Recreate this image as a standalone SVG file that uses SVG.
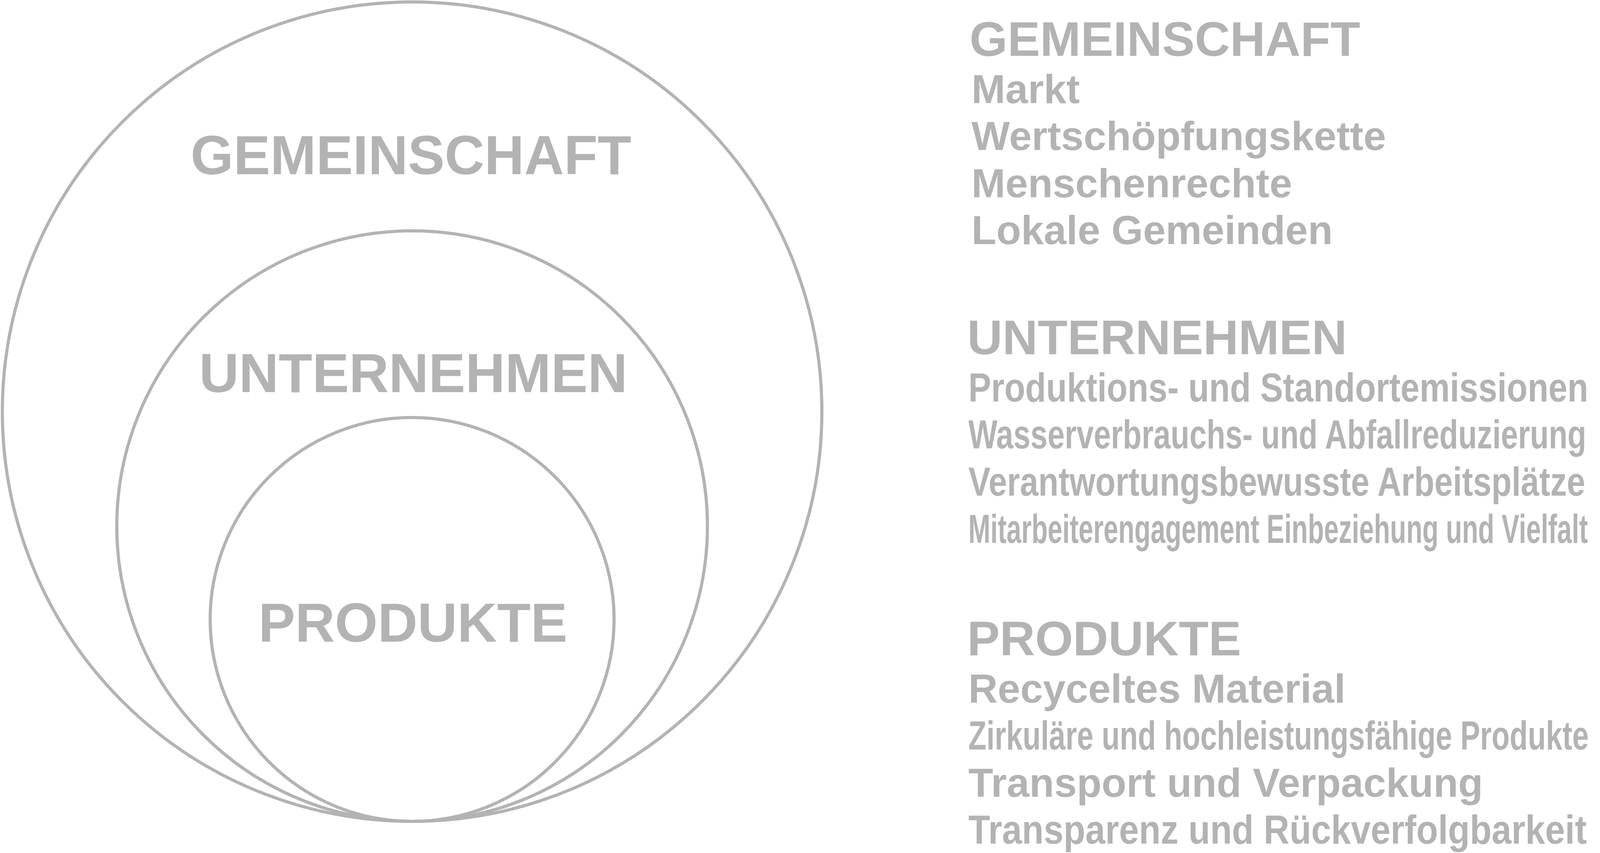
<svg xmlns="http://www.w3.org/2000/svg" width="4927" height="2184" viewBox="0 0 4927 2184">
<style>
.ring{fill:none;stroke:#b3b3b3;stroke-width:8}
.lbl{font-family:"Liberation Sans",Arial,sans-serif;font-weight:bold;fill:#b3b3b3}
.big{font-size:141px;text-anchor:middle}
.head{font-size:125px}
.item{font-size:104px}
</style>
<rect width="4927" height="2184" fill="#ffffff"/>
<g id="node-gemeinschaft">
<circle class="ring" cx="1055" cy="1054" r="1049"/>
<text class="lbl big" x="1052" y="446">GEMEINSCHAFT</text>
</g>
<g id="node-unternehmen">
<circle class="ring" cx="1055" cy="1347" r="756"/>
<text class="lbl big" x="1058" y="1004">UNTERNEHMEN</text>
</g>
<g id="node-produkte">
<circle class="ring" cx="1055" cy="1586" r="517"/>
<text class="lbl big" x="1057" y="1643">PRODUKTE</text>
</g>
<g id="connectors"></g>
<g id="list-gemeinschaft">
<text class="lbl head" x="2482" y="143">GEMEINSCHAFT</text>
<text class="lbl item" x="2487" y="264">Markt</text>
<text class="lbl item" x="2487" y="384">Wertschöpfungskette</text>
<text class="lbl item" x="2487" y="505">Menschenrechte</text>
<text class="lbl item" x="2487" y="625">Lokale Gemeinden</text>
</g>
<g id="list-unternehmen">
<text class="lbl head" x="2476" y="907">UNTERNEHMEN</text>
<text class="lbl item" transform="translate(2479 1028) scale(0.84 1)">Produktions- und Standortemissionen</text>
<text class="lbl item" transform="translate(2479 1148) scale(0.757 1)">Wasserverbrauchs- und Abfallreduzierung</text>
<text class="lbl item" transform="translate(2479 1269) scale(0.815 1)">Verantwortungsbewusste Arbeitsplätze</text>
<text class="lbl item" transform="translate(2479 1390) scale(0.651 1)">Mitarbeiterengagement Einbeziehung und Vielfalt</text>
</g>
<g id="list-produkte">
<text class="lbl head" x="2476" y="1678">PRODUKTE</text>
<text class="lbl item" x="2479" y="1799">Recyceltes Material</text>
<text class="lbl item" transform="translate(2479 1919) scale(0.729 1)">Zirkuläre und hochleistungsfähige Produkte</text>
<text class="lbl item" x="2479" y="2040">Transport und Verpackung</text>
<text class="lbl item" transform="translate(2479 2160) scale(0.878 1)">Transparenz und Rückverfolgbarkeit</text>
</g>
</svg>
